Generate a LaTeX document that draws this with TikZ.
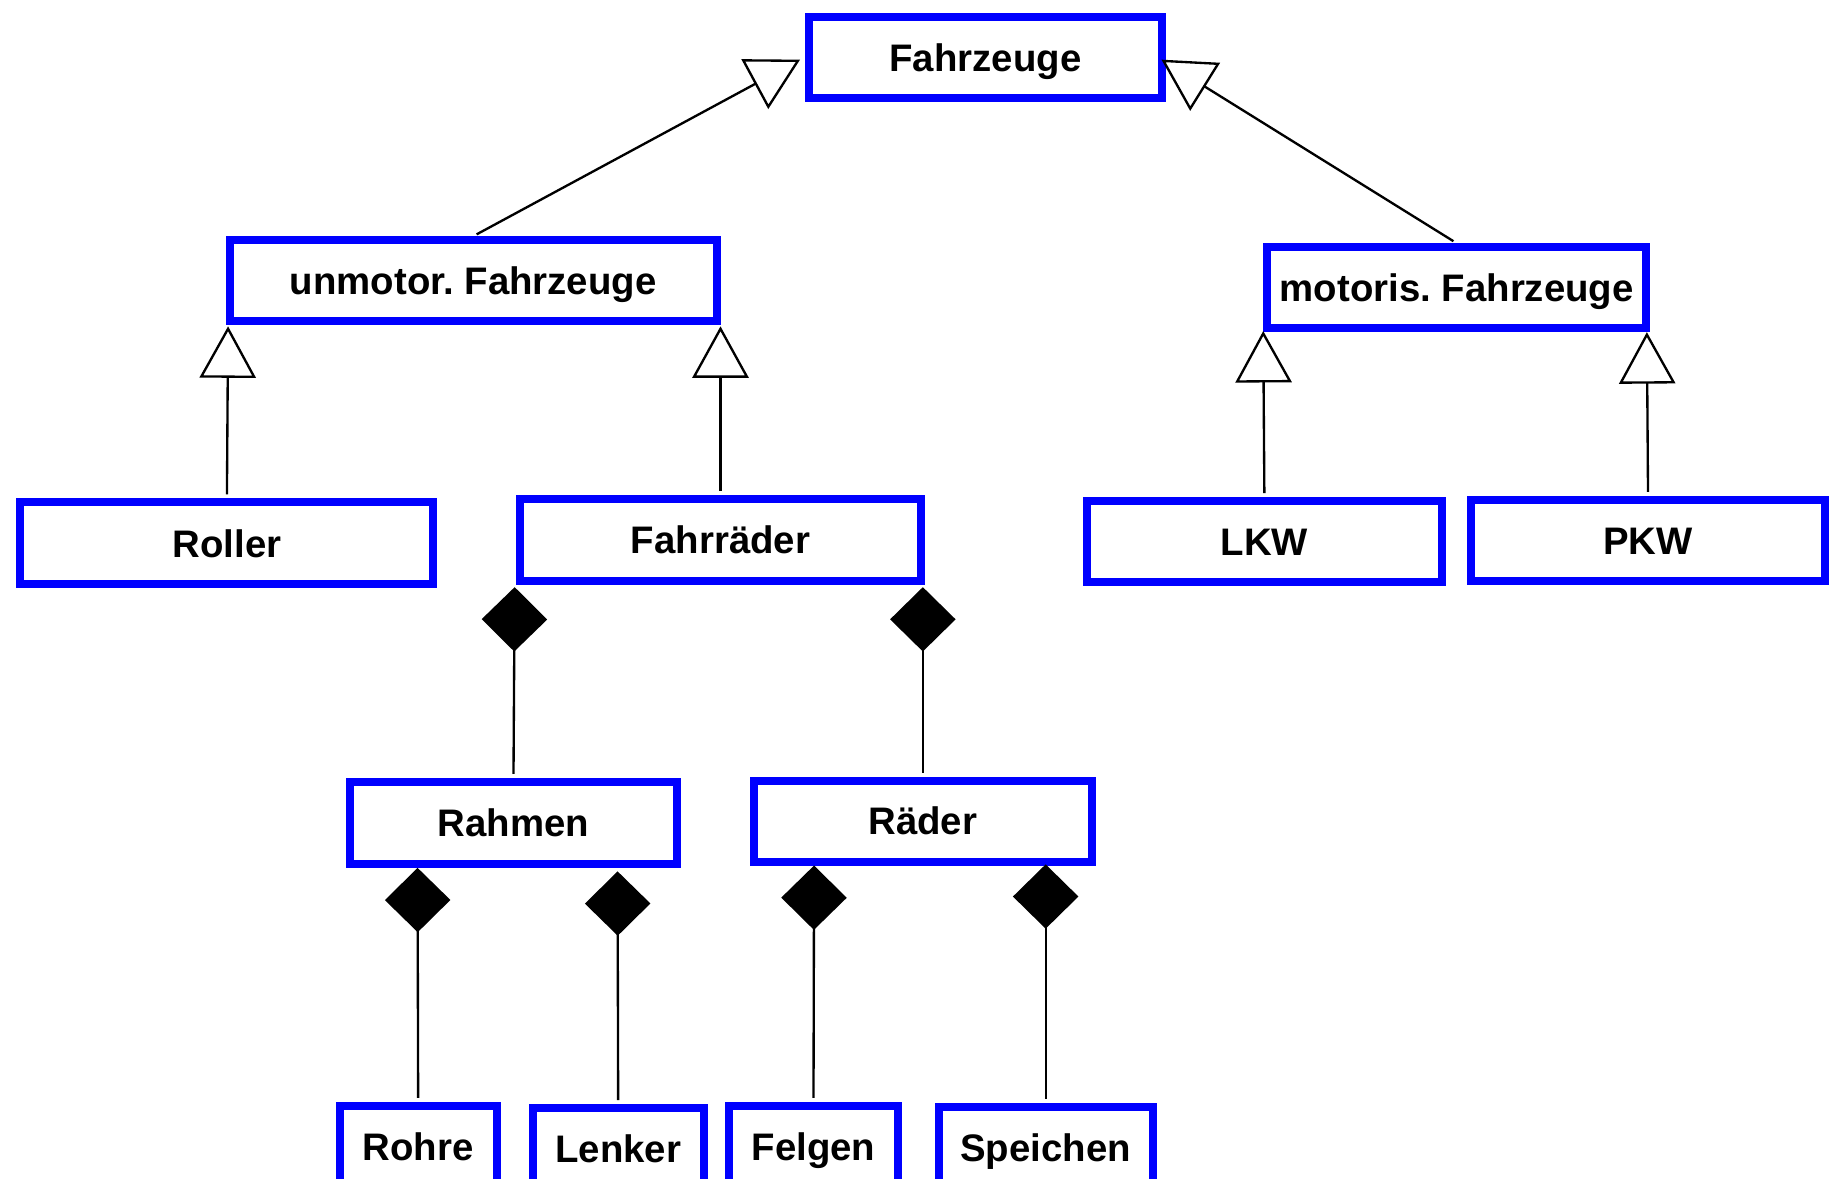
\documentclass[tikz,border=0pt]{standalone}
\usepackage{fontspec}
\setmainfont{Liberation Sans}
\usetikzlibrary{arrows.meta}
\definecolor{umlblue}{RGB}{0,0,255}
\frenchspacing
\begin{document}
\begin{tikzpicture}[x=1pt,y=-1pt,
  cls/.style={draw=umlblue, line width=6.8pt, fill=white, inner sep=0pt,
    text height=23.5pt, text depth=0pt,
    font=\fontsize{32.8}{39}\selectfont\bfseries\frenchspacing},
  gen/.style={line width=2pt, shorten <=3.4pt,
    -{Triangle[fill=white, width=48pt, length=44pt]}},
  comp/.style={line width=2pt, shorten >=3.4pt,
    {Diamond[width=56pt, length=55pt]}-},
  ]
\useasboundingbox (0,0) rectangle (1568,1008);
\fill[white] (0,0) rectangle (1568,1008);

% classes
\node[cls, minimum width=302.2pt, minimum height=69.2pt] (F) at (842.5,49) {Fahrzeuge};
\node[cls, minimum width=416.2pt, minimum height=69.2pt] (U) at (404.5,240) {unmotor. Fahrzeuge};
\node[cls, minimum width=324.2pt, minimum height=69.2pt] (M) at (1245.5,246) {motoris. Fahrzeuge};
\node[cls, minimum width=353.2pt, minimum height=70.2pt] (Roller) at (194,464.5) {Roller};
\node[cls, minimum width=343.2pt, minimum height=70.2pt] (Fr) at (616,461.5) {Fahrräder};
\node[cls, minimum width=303.2pt, minimum height=69.2pt] (LKW) at (1081,463) {LKW};
\node[cls, minimum width=303.2pt, minimum height=69.2pt] (PKW) at (1409,462) {PKW};
\node[cls, minimum width=279.2pt, minimum height=70.2pt] (Rahmen) at (439,703.5) {Rahmen};
\node[cls, minimum width=289.2pt, minimum height=69.2pt] (Raeder) at (789,702) {Räder};
\node[cls, minimum width=134.2pt, minimum height=69.2pt] (Rohre) at (357.5,980) {Rohre};
\node[cls, minimum width=146.2pt, minimum height=69.2pt] (Lenker) at (528.5,982) {Lenker};
\node[cls, minimum width=144.2pt, minimum height=69.2pt] (Felgen) at (695.5,980) {Felgen};
\node[cls, minimum width=183.2pt, minimum height=69.2pt] (Speichen) at (894,981) {Speichen};

% attachment points on parent borders
\coordinate (tFL) at (684,51);
\coordinate (tFR) at (993,51);
\coordinate (tU1) at (195,279);
\coordinate (tU2) at (616,279);
\coordinate (tM1) at (1080,283);
\coordinate (tM2) at (1408,284);
\coordinate (dF1) at (440,502);
\coordinate (dF2) at (789,502);
\coordinate (dR1) at (357,742);
\coordinate (dR2) at (528,745);
\coordinate (dA1) at (696,740);
\coordinate (dA2) at (894,739);

% generalizations
\draw[gen] (U.north) -- (tFL);
\draw[gen] (M.north) -- (tFR);
\draw[gen] (Roller.north) -- (tU1);
\draw[gen] (Fr.north) -- (tU2);
\draw[gen] (LKW.north) -- (tM1);
\draw[gen] (PKW.north) -- (tM2);

% compositions
\draw[comp] (dF1) -- (Rahmen.north);
\draw[comp] (dF2) -- (Raeder.north);
\draw[comp] (dR1) -- (Rohre.north);
\draw[comp] (dR2) -- (Lenker.north);
\draw[comp] (dA1) -- (Felgen.north);
\draw[comp] (dA2) -- (Speichen.north);
\end{tikzpicture}
\end{document}
